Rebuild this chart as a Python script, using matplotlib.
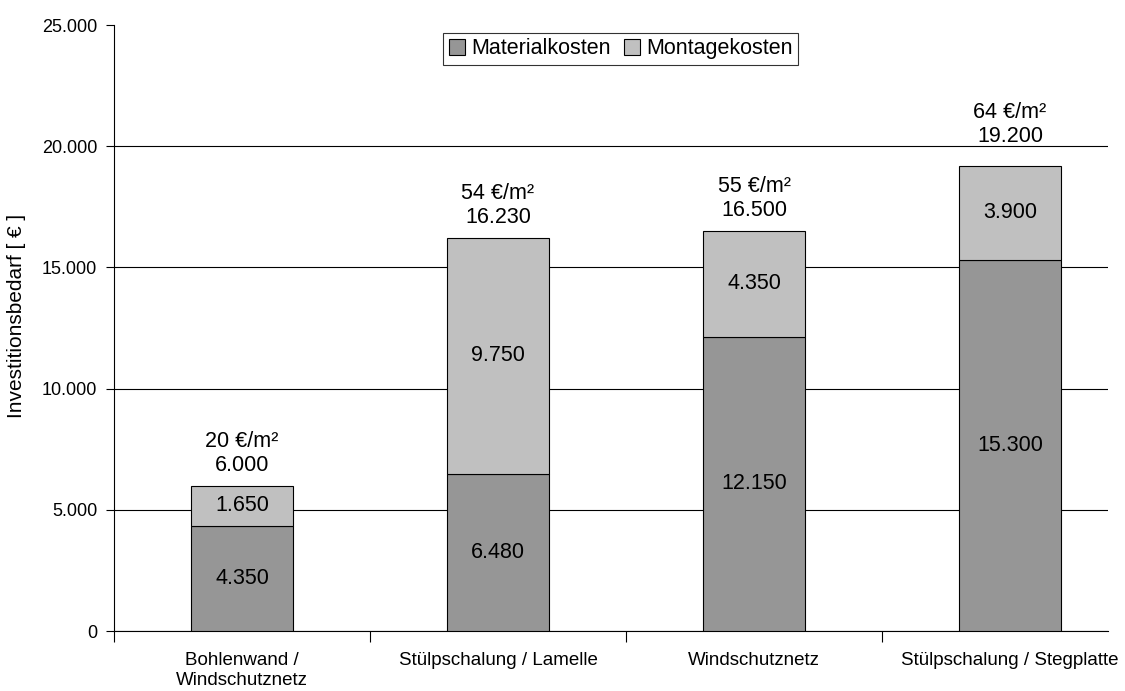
import numpy as np
import matplotlib
matplotlib.use('Agg')
import matplotlib.pyplot as plt

categories = ['Bohlenwand /\nWindschutznetz', 'Stülpschalung / Lamelle',
              'Windschutznetz', 'Stülpschalung / Stegplatte']
material = [4350, 6480, 12150, 15300]
montage = [1650, 9750, 4350, 3900]
totals = [6000, 16230, 16500, 19200]
per_m2 = ['20 €/m²', '54 €/m²', '55 €/m²', '64 €/m²']

plt.rcParams['font.family'] = ['Liberation Sans', 'DejaVu Sans']

fig = plt.figure(figsize=(11.25, 6.91), dpi=100)
ax = fig.add_axes([0.1013, 0.0868, 0.8836, 0.877])

x = np.arange(len(categories))
w = 0.40
c_mat = '#969696'
c_mon = '#c0c0c0'

ax.bar(x, material, w, color=c_mat, edgecolor='black', linewidth=0.8,
       label='Materialkosten', zorder=3)
ax.bar(x, montage, w, bottom=material, color=c_mon, edgecolor='black',
       linewidth=0.8, label='Montagekosten', zorder=3)


def fmt(v):
    return f'{v:,.0f}'.replace(',', '.')


# the last total label sits a bit higher, clear of the 20.000 gridline
label_lift = [7, 7, 7, 13.5]

for i in range(len(categories)):
    ax.text(x[i], material[i] / 2, fmt(material[i]), ha='center', va='center',
            fontsize=15.5, zorder=4)
    ax.text(x[i], material[i] + montage[i] / 2, fmt(montage[i]), ha='center',
            va='center', fontsize=15.5, zorder=4)
    ax.annotate(per_m2[i] + '\n' + fmt(totals[i]), (x[i], totals[i]),
                xytext=(0, label_lift[i]), textcoords='offset points',
                ha='center', va='bottom', fontsize=15.5, linespacing=1.2)

ax.set_ylim(0, 25000)
ax.set_xlim(-0.5, 3.383)
yt = np.arange(0, 25001, 5000)
ax.set_yticks(yt)
ax.set_yticklabels([fmt(v) for v in yt], fontsize=13)
ax.yaxis.grid(True, color='black', linewidth=0.8, zorder=0)
ax.yaxis.get_gridlines()[-1].set_visible(False)
ax.tick_params(axis='y', direction='out', length=6, width=0.8, pad=6)

# category boundaries as major ticks, labels on minor ticks
ax.set_xticks(np.arange(-0.5, 3.5, 1.0))
ax.set_xticklabels([])
ax.tick_params(axis='x', which='major', direction='out', length=8, width=0.8)
ax.set_xticks(x, minor=True)
ax.set_xticklabels(categories, minor=True, fontsize=13.5, linespacing=1.22)
ax.tick_params(axis='x', which='minor', length=0, pad=15)

ax.spines['top'].set_visible(False)
ax.spines['right'].set_visible(False)
ax.spines['left'].set_linewidth(0.8)
ax.spines['bottom'].set_linewidth(0.8)

fig.text(17 / 1125, 1 - 316 / 691, 'Investitionsbedarf [ € ]', rotation=90,
         ha='center', va='center', fontsize=15)

leg = ax.legend(loc='upper center', bbox_to_anchor=(0.510, 0.987), ncol=2,
                fontsize=15.5, frameon=True, fancybox=False, edgecolor='black',
                handlelength=0.75, handleheight=0.75, handletextpad=0.3,
                columnspacing=0.6, borderpad=0.25, borderaxespad=0)
leg.get_frame().set_linewidth(0.8)

fig.savefig('out.png', dpi=100)
